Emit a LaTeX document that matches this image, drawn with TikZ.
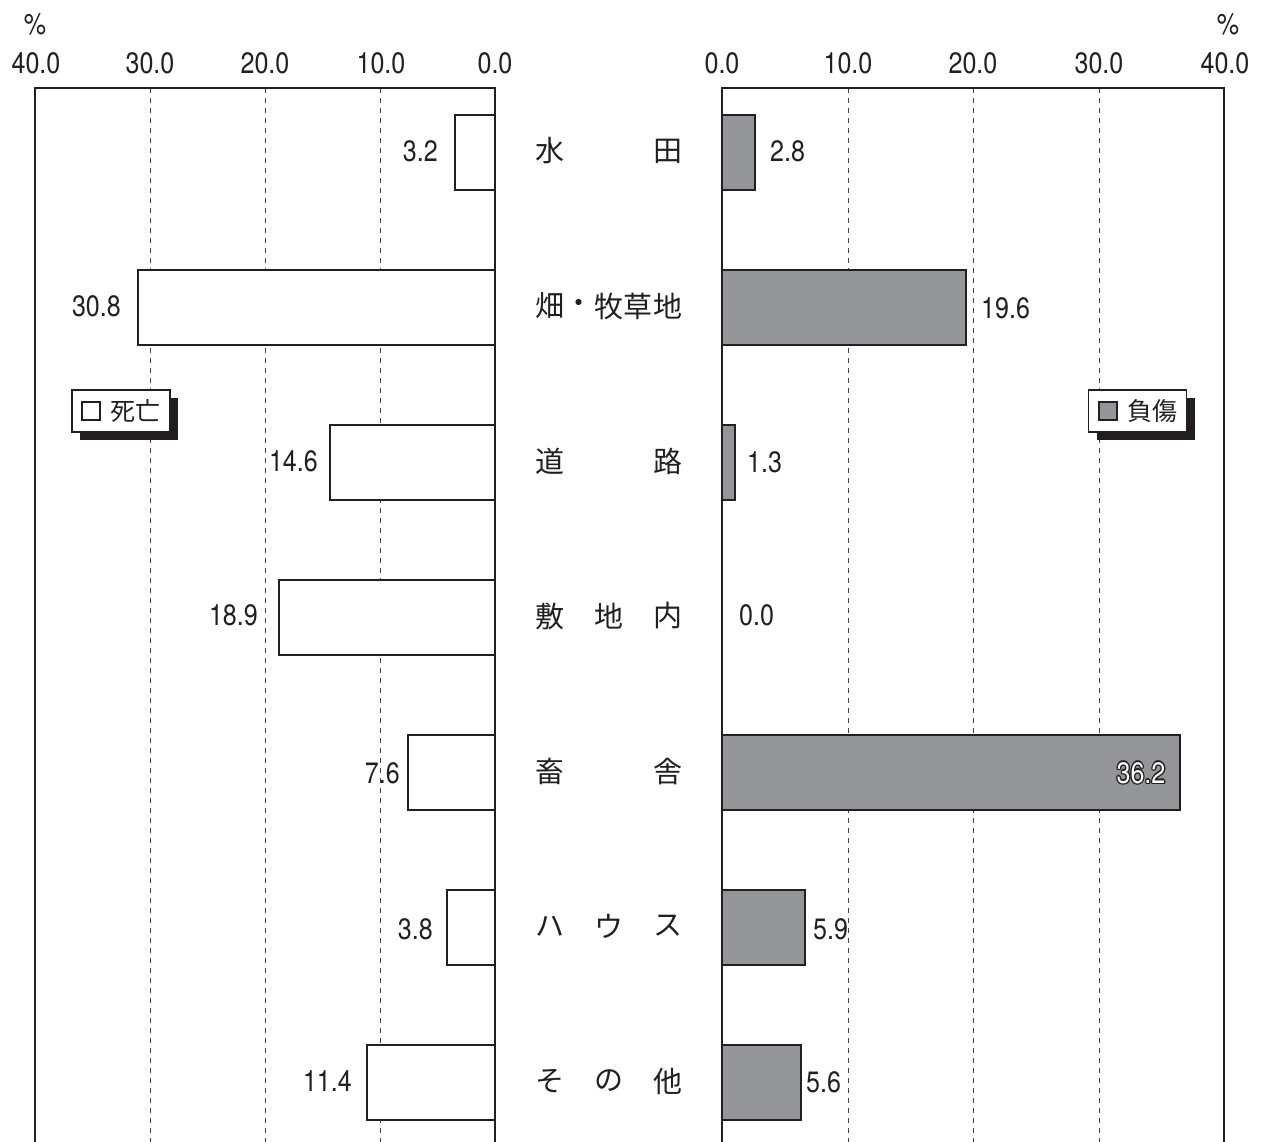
\documentclass[tikz,border=0pt]{standalone}
\usepackage{fontspec}
\setmainfont{TeX Gyre Heros}
\newfontfamily\numfont[FakeStretch=0.85]{TeX Gyre Heros}
\newfontfamily\jpfont{Noto Sans CJK JP}
\definecolor{ink}{HTML}{231F20}
\definecolor{barg}{HTML}{939598}
\begin{document}
\begin{tikzpicture}[x=1pt,y=-1pt,
  frameline/.style={line width=2.8pt, draw=ink, line cap=butt, line join=miter},
  gridline/.style={dash pattern=on 5pt off 5pt, line width=1pt, draw=ink!85},
  deadbar/.style={draw=ink, line width=1.3pt, fill=white},
  hurtbar/.style={draw=ink, line width=1.3pt, fill=barg},
  numlabel/.style={font=\numfont\fontsize{29.5}{29.5}\selectfont, text=ink, inner sep=0pt},
  catlabel/.style={font=\jpfont\fontsize{29}{29}\selectfont, text=ink, inner sep=0pt},
  legtext/.style={font=\jpfont\fontsize{25}{25}\selectfont, text=ink, inner sep=0pt},
  legbox/.style={draw=ink, line width=1.2pt, fill=white, minimum width=98pt, minimum height=42pt, inner sep=0pt},
  legshadow/.style={fill=ink, draw=none, minimum width=98pt, minimum height=42pt, inner sep=0pt},
  legsq/.style={draw=ink, line width=1.2pt, minimum size=18pt, inner sep=0pt},
  ]
\useasboundingbox (0,0) rectangle (1264,1142);

% grid lines
\foreach \gx in {150,265,380,848,973,1099}
  \draw[gridline] (\gx,88) -- (\gx,1142);

% left bars (death)
\foreach \e [count=\i from 0] in {455,138,330,279,408,447,367}
  \draw[deadbar] (\e,{115+155*\i}) rectangle (495,{190+155*\i});
% right bars (injury)
\foreach \e/\i in {755/0,966/1,735/2,1180/4,805/5,801/6}
  \draw[hurtbar] (722,{115+155*\i}) rectangle (\e,{190+155*\i});

% frames
\draw[frameline] (35,1142) -- (35,88) -- (495,88) -- (495,1142);
\draw[frameline] (722,1142) -- (722,88) -- (1224,88) -- (1224,1142);

% axis labels
\node[numlabel] (pl) at (35,24) {\%};
\node[numlabel] (pr) at (1228,24) {\%};
\node[numlabel] (l40) at (36,63) {40.0};
\node[numlabel] (l30) at (150,63) {30.0};
\node[numlabel] (l20) at (265,63) {20.0};
\node[numlabel] (l10) at (381,63) {10.0};
\node[numlabel] (l00) at (495,63) {0.0};
\node[numlabel] (r00) at (722,63) {0.0};
\node[numlabel] (r10) at (848,63) {10.0};
\node[numlabel] (r20) at (973,63) {20.0};
\node[numlabel] (r30) at (1099,63) {30.0};
\node[numlabel] (r40) at (1225,63) {40.0};

% left value labels
\node[numlabel, anchor=east] (dv1) at (438,151) {3.2};
\node[numlabel, anchor=east] (dv2) at (121,306) {30.8};
\node[numlabel, anchor=east] (dv3) at (318,461) {14.6};
\node[numlabel, anchor=east] (dv4) at (258,615) {18.9};
\node[numlabel, anchor=east] (dv5) at (400,773) {7.6};
\node[numlabel, anchor=east] (dv6) at (433,929) {3.8};
\node[numlabel, anchor=east] (dv7) at (352,1081) {11.4};

% right value labels
\node[numlabel, anchor=west] (hv1) at (770,151) {2.8};
\node[numlabel, anchor=west] (hv2) at (981,308) {19.6};
\node[numlabel, anchor=west] (hv3) at (747,462) {1.3};
\node[numlabel, anchor=west] (hv4) at (739,615) {0.0};
\foreach \dx/\dy [count=\k] in {1.3/0,-1.3/0,0/1.3,0/-1.3,0.9/0.9,-0.9/0.9,0.9/-0.9,-0.9/-0.9}
  \node[numlabel, text=ink] (hv5o\k) at ({1141+\dx},{773+\dy}) {36.2};
\node[numlabel, text=white] (hv5) at (1141,773) {36.2};
\node[numlabel, anchor=west] (hv6) at (813,929) {5.9};
\node[numlabel, anchor=west] (hv7) at (806,1082) {5.6};

% category labels
\node[catlabel] (c1a) at (550,151) {水};
\node[catlabel] (c1b) at (668,151) {田};
\node[catlabel] (c2a) at (550,306) {畑};
\node[catlabel] (c2b) at (579,306) {・};
\node[catlabel] (c2c) at (609,306) {牧};
\node[catlabel] (c2d) at (638,306) {草};
\node[catlabel] (c2e) at (668,306) {地};
\node[catlabel] (c3a) at (550,461) {道};
\node[catlabel] (c3b) at (668,461) {路};
\node[catlabel] (c4a) at (550,616) {敷};
\node[catlabel] (c4b) at (609,616) {地};
\node[catlabel] (c4c) at (668,616) {内};
\node[catlabel] (c5a) at (550,771) {畜};
\node[catlabel] (c5b) at (668,771) {舎};
\node[catlabel] (c6a) at (550,926) {ハ};
\node[catlabel] (c6b) at (609,926) {ウ};
\node[catlabel] (c6c) at (668,926) {ス};
\node[catlabel] (c7a) at (550,1081) {そ};
\node[catlabel] (c7b) at (609,1081) {の};
\node[catlabel] (c7c) at (668,1081) {他};

% legends
\node[legshadow] (lsd) at (129,419) {};
\node[legbox] (lbd) at (121,411) {};
\node[legsq, fill=white] (lsqd) at (91,411) {};
\node[legtext] (ltd) at (135,411) {死亡};

\node[legshadow] (lsh) at (1145.5,419) {};
\node[legbox] (lbh) at (1137.5,411) {};
\node[legsq, fill=barg] (lsqh) at (1108,411) {};
\node[legtext] (lth) at (1152,411) {負傷};
\end{tikzpicture}
\end{document}
